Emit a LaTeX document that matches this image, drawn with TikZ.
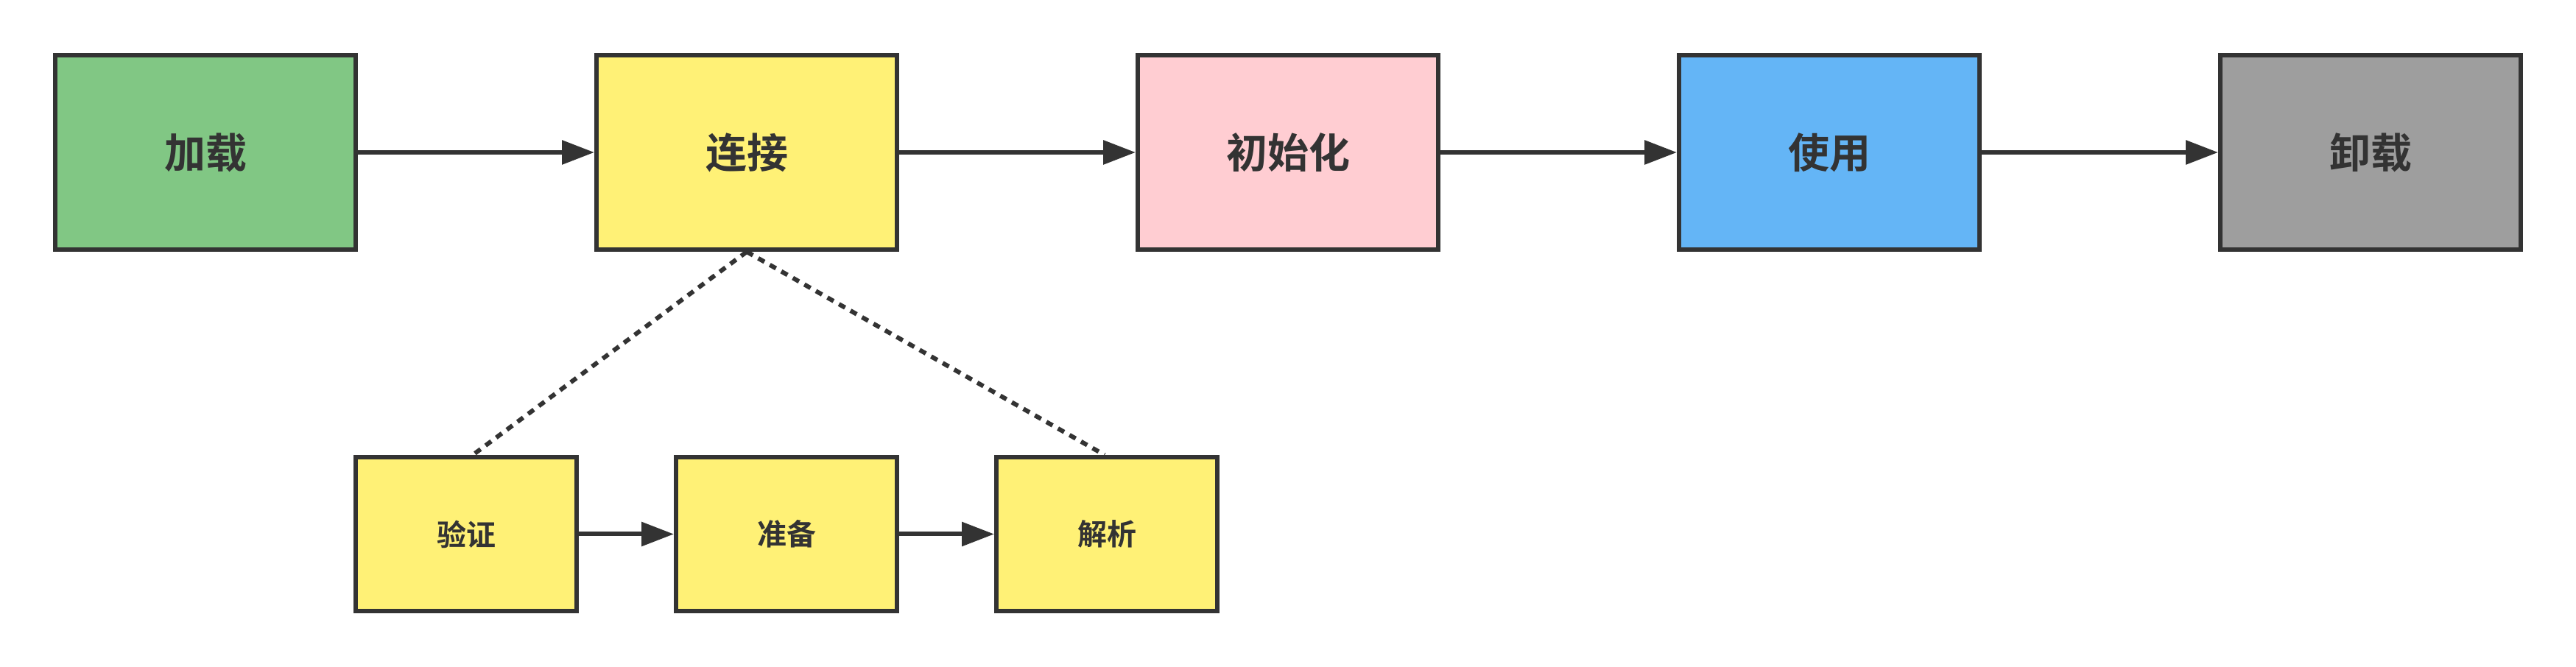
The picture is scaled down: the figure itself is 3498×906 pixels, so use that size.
\documentclass[tikz,border=0pt]{standalone}
\usepackage{fontspec}
\setmainfont{Noto Sans CJK SC}[BoldFont={Noto Sans CJK SC Bold}]
\usetikzlibrary{arrows.meta}
\definecolor{edge}{HTML}{333333}
\definecolor{cgreen}{HTML}{81C784}
\definecolor{cyellow}{HTML}{FFF176}
\definecolor{cpink}{HTML}{FFCDD2}
\definecolor{cblue}{HTML}{64B5F6}
\definecolor{cgray}{HTML}{9E9E9E}
\tikzset{
  bigbox/.style={draw=edge, line width=1.5pt, minimum width=102pt, minimum height=66pt, inner sep=0pt, text=edge, font=\fontsize{14pt}{16pt}\selectfont\bfseries},
  smallbox/.style={draw=edge, line width=1.5pt, fill=cyellow, minimum width=75pt, minimum height=52.25pt, inner sep=0pt, text=edge, font=\fontsize{10pt}{12pt}\selectfont\bfseries},
  flow/.style={draw=edge, line width=1.5pt, -{Triangle[length=11pt,width=8pt]}},
  dots/.style={draw=edge, line width=1.5pt, dash pattern=on 2.4pt off 2.1pt}
}
\begin{document}
\begin{tikzpicture}[x=0.25pt, y=-0.25pt]
\useasboundingbox[fill=white] (0,0) rectangle (3498,906);
\node[bigbox, fill=cgreen] (load) at (279,207) {加载};
\node[bigbox, fill=cyellow] (link) at (1014,207) {连接};
\node[bigbox, fill=cpink] (init) at (1749,207) {初始化};
\node[bigbox, fill=cblue] (use) at (2484,207) {使用};
\node[bigbox, fill=cgray] (unload) at (3219,207) {卸载};
\node[smallbox] (verify) at (633,725.5) {验证};
\node[smallbox] (prep) at (1068,725.5) {准备};
\node[smallbox] (resolve) at (1503,725.5) {解析};
\draw[flow] (load) -- (link);
\draw[flow] (link) -- (init);
\draw[flow] (init) -- (use);
\draw[flow] (use) -- (unload);
\draw[flow] (verify) -- (prep);
\draw[flow] (prep) -- (resolve);
\coordinate (vtop) at ([xshift=2.25pt]verify.north);
\coordinate (rtop) at ([xshift=-0.75pt]resolve.north);
\draw[dots] (link.south) -- (vtop);
\draw[dots] (link.south) -- (rtop);
\end{tikzpicture}
\end{document}
